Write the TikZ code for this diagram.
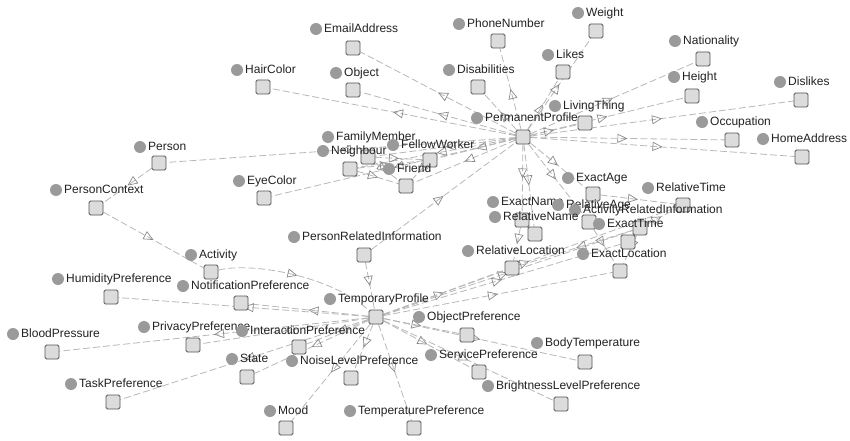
\documentclass[tikz,border=0pt]{standalone}
\usepackage{fontspec}
\setmainfont{Liberation Sans}
\usetikzlibrary{arrows.meta,decorations.markings}
\pgfdeclarelayer{background}
\pgfdeclarelayer{canvas}
\pgfsetlayers{canvas,background,main}
\definecolor{dotgray}{HTML}{9A9A9A}
\definecolor{boxfill}{HTML}{DCDCDC}
\definecolor{boxline}{HTML}{555555}
\definecolor{edgegray}{HTML}{B8B8B8}
\definecolor{tipgray}{HTML}{8A8A8A}
\definecolor{txtgray}{HTML}{222222}
\tikzset{
  dot/.style={circle,fill=dotgray,minimum size=12pt,inner sep=0pt},
  clsbox/.style={rectangle,fill=boxfill,draw=boxline,line width=0.9pt,rounded corners=1.5pt,minimum size=14pt,inner sep=0pt},
  lbl/.style={anchor=west,inner sep=1pt,text=txtgray,font=\fontsize{12}{14}\selectfont,text height=9pt,text depth=2.5pt},
  edge/.style={draw=edgegray,line width=0.8pt,dash pattern=on 7pt off 3pt,postaction={decorate},
    decoration={markings,mark=at position 0.5 with {\arrow{Triangle[open,length=10pt,width=9pt,color=tipgray,line width=0.7pt]}}}}
}
\newcommand\ontoclass[6]{%
  \node[dot] (d#1) at (#3,#4) {};
  \node[lbl] at (#3+7,#4) {#2};
  \node[clsbox] (#1) at (#5,#6) {};
}
\begin{document}
\begin{tikzpicture}[x=1pt,y=-1pt]
\begin{pgfonlayer}{canvas}
\fill[white] (0,0) rectangle (850,441);
\end{pgfonlayer}
\useasboundingbox (0,0) rectangle (850,441);
% nodes
\ontoclass{Weight}{Weight}{578}{13}{596}{31}
\ontoclass{EmailAddress}{EmailAddress}{316}{29}{353}{48}
\ontoclass{PhoneNumber}{PhoneNumber}{459}{24}{498}{41}
\ontoclass{Nationality}{Nationality}{675}{41}{703}{59}
\ontoclass{Likes}{Likes}{548}{55}{563}{72}
\ontoclass{HairColor}{HairColor}{237}{70}{263}{87}
\ontoclass{Object}{Object}{336}{73}{353}{90}
\ontoclass{Disabilities}{Disabilities}{449}{70}{478}{87}
\ontoclass{Height}{Height}{674}{77}{692}{96}
\ontoclass{Dislikes}{Dislikes}{780}{82}{801}{100}
\ontoclass{LivingThing}{LivingThing}{555}{106}{585}{123}
\ontoclass{PP}{PermanentProfile}{477}{118}{523}{137}
\ontoclass{Occupation}{Occupation}{702}{122}{732}{140}
\ontoclass{HomeAddress}{HomeAddress}{763}{139}{802}{157}
\ontoclass{FamilyMember}{FamilyMember}{328}{137}{368}{157}
\ontoclass{Neighbour}{Neighbour}{323}{151}{350}{169}
\ontoclass{FellowWorker}{FellowWorker}{393}{145}{430}{160}
\ontoclass{Friend}{Friend}{389}{169}{406}{186}
\ontoclass{Person}{Person}{140}{147}{159}{163}
\ontoclass{EyeColor}{EyeColor}{239}{181}{264}{198}
\ontoclass{ExactAge}{ExactAge}{568}{178}{593}{194}
\ontoclass{PersonContext}{PersonContext}{56}{190}{96}{208}
\ontoclass{RelativeTime}{RelativeTime}{648}{188}{683}{205}
\ontoclass{ExactName}{ExactName}{493}{202}{522}{220}
\ontoclass{RelativeAge}{RelativeAge}{558}{205}{589}{222}
\ontoclass{ARI}{ActivityRelatedInformation}{575}{210}{640}{228}
\ontoclass{RelativeName}{RelativeName}{495}{217}{535}{234}
\ontoclass{ExactTime}{ExactTime}{599}{224}{628}{242}
\ontoclass{PRI}{PersonRelatedInformation}{294}{237}{364}{255}
\ontoclass{RelativeLocation}{RelativeLocation}{468}{251}{512}{268}
\ontoclass{ExactLocation}{ExactLocation}{583}{254}{620}{271}
\ontoclass{Activity}{Activity}{191}{255}{211}{272}
\ontoclass{HumidityPreference}{HumidityPreference}{58}{279}{111}{297}
\ontoclass{NotificationPreference}{NotificationPreference}{183}{286}{241}{303}
\ontoclass{TP}{TemporaryProfile}{330}{299}{376}{317}
\ontoclass{ObjectPreference}{ObjectPreference}{419}{317}{467}{335}
\ontoclass{BloodPressure}{BloodPressure}{13}{334}{52}{352}
\ontoclass{PrivacyPreference}{PrivacyPreference}{144}{327}{193}{345}
\ontoclass{InteractionPreference}{InteractionPreference}{242}{331}{299}{347}
\ontoclass{BodyTemperature}{BodyTemperature}{537}{343}{585}{362}
\ontoclass{State}{State}{232}{359}{247}{377}
\ontoclass{NoiseLevelPreference}{NoiseLevelPreference}{292}{361}{351}{378}
\ontoclass{ServicePreference}{ServicePreference}{431}{355}{479}{372}
\ontoclass{TaskPreference}{TaskPreference}{71}{384}{113}{402}
\ontoclass{BrightnessLevelPreference}{BrightnessLevelPreference}{488}{386}{561}{404}
\ontoclass{Mood}{Mood}{270}{411}{286}{428}
\ontoclass{TemperaturePreference}{TemperaturePreference}{350}{411}{414}{428}
% edges
\begin{pgfonlayer}{background}
\foreach \c in {HairColor,Object,EmailAddress,PhoneNumber,Disabilities,Likes,Weight,
  Nationality,Height,LivingThing,Dislikes,Occupation,HomeAddress,Person,EyeColor,
  FamilyMember,Neighbour,FellowWorker,Friend,ExactAge,RelativeAge,ExactName,RelativeName}
  {\draw[edge] (PP) -- (\c);}
\draw[edge] (PRI) -- (PP);
\draw[edge] (PRI) -- (TP);
\draw[edge] (Person) -- (PersonContext);
\draw[edge] (PersonContext) -- (Activity);
\draw[edge] (Activity) .. controls (250,262) and (330,275) .. (TP);
\foreach \c in {NotificationPreference,HumidityPreference,PrivacyPreference,BloodPressure,
  InteractionPreference,State,TaskPreference,NoiseLevelPreference,Mood,TemperaturePreference,
  ServicePreference,BrightnessLevelPreference,ObjectPreference,BodyTemperature,
  RelativeLocation,ExactLocation,ARI,ExactTime,RelativeTime}
  {\draw[edge] (TP) -- (\c);}
\foreach \c in {ExactTime,RelativeTime,ExactLocation,RelativeLocation}
  {\draw[edge] (ARI) -- (\c);}
\draw[edge] (ExactAge) -- (RelativeTime);
\draw[edge] (RelativeAge) -- (ExactLocation);
\draw[edge] (ExactName) -- (RelativeLocation);
\draw[edge] (Neighbour) -- (Friend);
\draw[edge] (FamilyMember) -- (Friend);
\draw[edge] (FellowWorker) -- (Friend);
\draw[edge] (Neighbour) -- (FellowWorker);
\draw[edge] (FamilyMember) -- (FellowWorker);
\end{pgfonlayer}
\end{tikzpicture}
\end{document}
